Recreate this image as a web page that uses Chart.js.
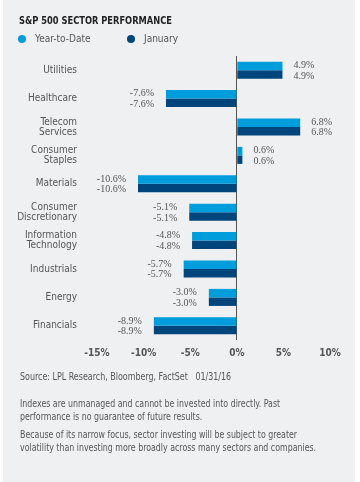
<!DOCTYPE html>
<html>
<head>
<meta charset="utf-8">
<script src="https://cdn.jsdelivr.net/npm/chart.js@4/dist/chart.umd.min.js"></script>
<style>
  html, body { margin: 0; padding: 0; background: #fff; }
  #panel {
    position: absolute; left: 3px; top: 0; width: 352px; height: 482px;
    background: #eff0f2;
  }
  #wrap { position: absolute; left: 0; top: 0; width: 360px; height: 482px; }
  .txt {
    position: absolute; font-family: 'DejaVu Sans Condensed', sans-serif;
    color: #555; white-space: nowrap; transform-origin: 0 0;
  }
  #title { left: 19px; top: 14px; font-size: 11px; font-weight: bold; color: #222; transform: scaleX(0.84); }
  .dot { position: absolute; width: 8px; height: 8px; border-radius: 50%; }
  #source { left: 20px; top: 371px; font-size: 10px; transform: scaleX(0.885); }
  #note1 { left: 20px; top: 398px; font-size: 10px; line-height: 12.5px; transform: scaleX(0.875); }
  #note2 { left: 20px; top: 429px; font-size: 10px; line-height: 12.5px; transform: scaleX(0.875); }
</style>
</head>
<body>
<div id="panel"></div>
<div id="wrap"><canvas id="chart" width="360" height="482"></canvas></div>
<div class="txt" id="title">S&amp;P 500 SECTOR PERFORMANCE</div>
<div class="dot" style="left:18px;top:35px;background:#009ddc"></div>
<div class="txt" style="left:35px;top:33px;font-size:10px">Year-to-Date</div>
<div class="dot" style="left:127px;top:35px;background:#00457c"></div>
<div class="txt" style="left:144px;top:33px;font-size:10px">January</div>
<div class="txt" id="source">Source: LPL Research, Bloomberg, FactSet&nbsp;&nbsp;&nbsp;01/31/16</div>
<div class="txt" id="note1">Indexes are unmanaged and cannot be invested into directly. Past<br>performance is no guarantee of future results.</div>
<div class="txt" id="note2">Because of its narrow focus, sector investing will be subject to greater<br>volatility than investing more broadly across many sectors and companies.</div>
<script>
"use strict";

// Chart data
const sectors = [
    'Utilities', 'Healthcare', ['Telecom', 'Services'], ['Consumer', 'Staples'], 'Materials',
    ['Consumer', 'Discretionary'], ['Information', 'Technology'], 'Industrials', 'Energy', 'Financials'
];
const yearToDate = [4.9, -7.6, 6.8, 0.6, -10.6, -5.1, -4.8, -5.7, -3.0, -8.9];
const january    = [4.9, -7.6, 6.8, 0.6, -10.6, -5.1, -4.8, -5.7, -3.0, -8.9];
const xTicks = [-15, -10, -5, 0, 5, 10];

const sansFont = "'DejaVu Sans Condensed', sans-serif";
const serifFont = "'Liberation Serif', 'DejaVu Serif', serif";

// Value labels next to each bar end
const valueLabels = {
    id: 'valueLabels',
    afterDatasetsDraw(chart) {
        const ctx = chart.ctx;
        ctx.save();
        ctx.font = '10px ' + serifFont;
        ctx.fillStyle = '#555';
        ctx.textBaseline = 'middle';
        chart.data.datasets.forEach((ds, i) => {
            const shift = i === 0 ? -0.5 : 1.5;
            chart.getDatasetMeta(i).data.forEach((bar, j) => {
                const v = ds.data[j];
                const text = v.toFixed(1) + '%';
                if (v >= 0) {
                    ctx.textAlign = 'left';
                    ctx.fillText(text, bar.x + 11, bar.y + shift);
                } else {
                    ctx.textAlign = 'right';
                    ctx.fillText(text, bar.x - 12, bar.y + shift);
                }
            });
        });
        ctx.restore();
    }
};

const config = {
    type: 'bar',
    data: {
        labels: sectors,
        datasets: [
            { label: 'Year-to-Date', data: yearToDate, backgroundColor: '#009ddc' },
            { label: 'January', data: january, backgroundColor: '#00457c' }
        ]
    },
    options: {
        indexAxis: 'y',
        responsive: false,
        animation: false,
        barPercentage: 1,
        categoryPercentage: 0.6,
        layout: { padding: { top: 56, right: 30, bottom: 122, left: 0 } },
        plugins: {
            legend: { display: false },
            tooltip: { enabled: false }
        },
        scales: {
            x: {
                min: -15,
                max: 10,
                afterBuildTicks: (scale) => { scale.ticks = xTicks.map(v => ({ value: v })); },
                afterFit: (scale) => { scale.height = 20; },
                border: { display: false },
                grid: {
                    drawTicks: false,
                    color: (c) => (c.tick && c.tick.value === 0) ? '#555' : 'rgba(0,0,0,0)',
                    lineWidth: 1
                },
                ticks: {
                    padding: 7,
                    color: '#555',
                    font: { family: sansFont, size: 10, weight: 'bold' },
                    callback: (v) => v + '%'
                }
            },
            y: {
                afterFit: (scale) => { scale.width = 97; },
                border: { display: false },
                grid: { display: false, drawTicks: false },
                ticks: {
                    padding: 20,
                    color: '#555',
                    font: { family: sansFont, size: 10, lineHeight: 1.0 }
                }
            }
        }
    },
    plugins: [valueLabels]
};

const chart = new Chart(document.getElementById('chart').getContext('2d'), config);
</script>
</body>
</html>
